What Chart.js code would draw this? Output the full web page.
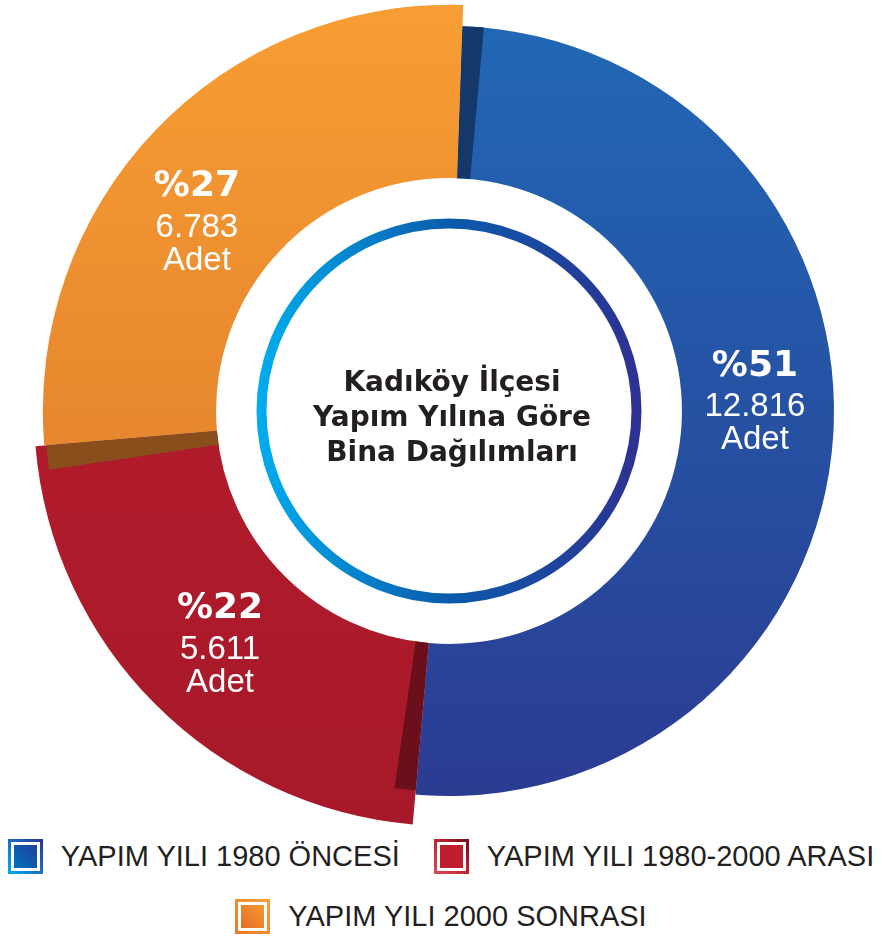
<!DOCTYPE html>
<html lang="tr">
<head>
<meta charset="utf-8">
<title>Kadıköy İlçesi Yapım Yılına Göre Bina Dağılımları</title>
<script src="https://cdn.jsdelivr.net/npm/chart.js@4.4.1/dist/chart.umd.min.js"></script>
<style>
  body { margin: 0; background: #fff; font-family: "Liberation Sans", Arial, sans-serif; }
  #wrap { width: 882px; height: 830px; position: relative; }
  #legend { width: 882px; margin-top: 9px; display: flex; flex-wrap: wrap; justify-content: center; column-gap: 34px; row-gap: 25px; }
  .item { display: flex; align-items: center; height: 35px; }
  .box { width: 35px; height: 35px; box-sizing: border-box; padding: 3px; margin-right: 18px; }
  .box span { display: block; height: 100%; box-sizing: border-box; padding: 3px; background: #fff; }
  .box span i { display: block; height: 100%; }
  .txt { font-size: 29px; color: #231f20; white-space: nowrap; }
</style>
</head>
<body>
<div id="wrap"><canvas id="ringChart"></canvas></div>
<div id="legend"></div>
<script>
// veriler
const categories = ['YAPIM YILI 1980 ÖNCESİ', 'YAPIM YILI 1980-2000 ARASI', 'YAPIM YILI 2000 SONRASI'];
const buildingCounts = [12816, 5611, 6783];
const unitLabel = 'Adet';
const centerTitle = ['Kadıköy İlçesi', 'Yapım Yılına Göre', 'Bina Dağılımları'];

// renkler / görünüm
const topColors = ['#2169b6', '#bc1e2d', '#f89e33'];
const bottomColors = ['#2b3a91', '#a7192a', '#d8722a'];
const sideColors = ['#15386a', '#6b0f1a', '#8a4d1c'];
const boxBorders = ['linear-gradient(45deg,#00aeef,#2e3192)', 'linear-gradient(45deg,#e04a55,#b51d2c 60%,#6b0f1a)', 'linear-gradient(45deg,#e8782a,#f7a23c)'];
const boxFills = ['linear-gradient(45deg,#0072bc,#21409a)', '#be1e2d', 'linear-gradient(45deg,#e36f25,#f39a33)'];
const outerScale = [1, 1.078, 1.055];
const labelSpot = [0.473, 0.49, 0.428];
const labelRadius = [306, 328, 314];

const total = buildingCounts.reduce((a, b) => a + b, 0);
const fmt = v => String(v).replace(/\B(?=(\d{3})+(?!\d))/g, '.');
const deg = Math.PI / 180;

function sliceFill(c) {
    const i = c.dataIndex;
    const area = c.chart.chartArea;
    if (!area) return topColors[i];
    const g = c.chart.ctx.createLinearGradient(0, area.top, 0, area.bottom);
    g.addColorStop(0, topColors[i]);
    g.addColorStop(1, bottomColors[i]);
    return g;
}

const ringParts = {
    id: 'ringParts',
    beforeDatasetsDraw(chart) {
        const meta = chart.getDatasetMeta(0);
        const base = meta.controller.outerRadius;
        meta.data.forEach((arc, i) => { arc.outerRadius = base * outerScale[i]; });
    },
    afterDatasetsDraw(chart) {
        const ctx = chart.ctx;
        const meta = chart.getDatasetMeta(0);
        const base = meta.controller.outerRadius;
        const [blue, red] = meta.data;
        const cx = blue.x, cy = blue.y;

        // yan yüzler (koyu şeritler)
        function wedge(a0, a1, r0, r1, color) {
            ctx.beginPath();
            ctx.arc(cx, cy, r1, a0, a1);
            ctx.arc(cx, cy, r0, a1, a0, true);
            ctx.closePath();
            ctx.fillStyle = color;
            ctx.fill();
        }
        wedge(blue.startAngle, blue.startAngle + 3.2 * deg, blue.innerRadius, base, sideColors[0]);
        wedge(red.startAngle, red.startAngle + 3.2 * deg, red.innerRadius, base - 4, sideColors[1]);
        wedge(red.endAngle - 3.5 * deg, red.endAngle, red.innerRadius, base * outerScale[2] - 2, sideColors[2]);

        // iç halka
        const rg = ctx.createLinearGradient(cx - 193, 0, cx + 193, 0);
        rg.addColorStop(0, '#00aeef');
        rg.addColorStop(0.5, '#0b5bab');
        rg.addColorStop(1, '#2e3192');
        ctx.beginPath();
        ctx.arc(cx, cy, 187.5, 0, Math.PI * 2);
        ctx.lineWidth = 10;
        ctx.strokeStyle = rg;
        ctx.stroke();

        // orta başlık
        ctx.fillStyle = '#231f20';
        ctx.textAlign = 'center';
        ctx.textBaseline = 'middle';
        ctx.font = 'bold 28px "DejaVu Sans"';
        centerTitle.forEach((t, k) => ctx.fillText(t, cx + 3, cy + 8 + (k - 1) * 35));

        // dilim etiketleri
        ctx.fillStyle = '#fff';
        meta.data.forEach((arc, i) => {
            const a = arc.startAngle + (arc.endAngle - arc.startAngle) * labelSpot[i];
            const r = labelRadius[i];
            const x = cx + r * Math.cos(a), y = cy + r * Math.sin(a);
            const pct = Math.round(buildingCounts[i] / total * 100);
            ctx.font = 'bold 36px "DejaVu Sans"';
            ctx.fillText('%' + pct, x, y - 37);
            ctx.font = '33px "Liberation Sans"';
            ctx.fillText(fmt(buildingCounts[i]), x, y + 4);
            ctx.fillText(unitLabel, x, y + 37);
        });
    }
};

const ringChart = new Chart(document.getElementById('ringChart').getContext('2d'), {
    type: 'doughnut',
    data: {
        labels: categories,
        datasets: [{
            data: buildingCounts,
            backgroundColor: sliceFill,
            borderWidth: 0
        }]
    },
    options: {
        responsive: true,
        maintainAspectRatio: false,
        animation: false,
        events: [],
        rotation: 2,
        radius: 385,
        cutout: '60.5%',
        layout: { padding: { left: 16, right: 0, top: 0, bottom: 8 } },
        plugins: {
            legend: { display: false },
            tooltip: { enabled: false }
        }
    },
    plugins: [ringParts]
});

// lejant
const legend = document.getElementById('legend');
categories.forEach((c, i) => {
    const item = document.createElement('div');
    item.className = 'item';
    item.innerHTML = '<div class="box" style="background:' + boxBorders[i] + '"><span><i style="background:' + boxFills[i] + '"></i></span></div><div class="txt">' + c + '</div>';
    legend.appendChild(item);
});
</script>
</body>
</html>
